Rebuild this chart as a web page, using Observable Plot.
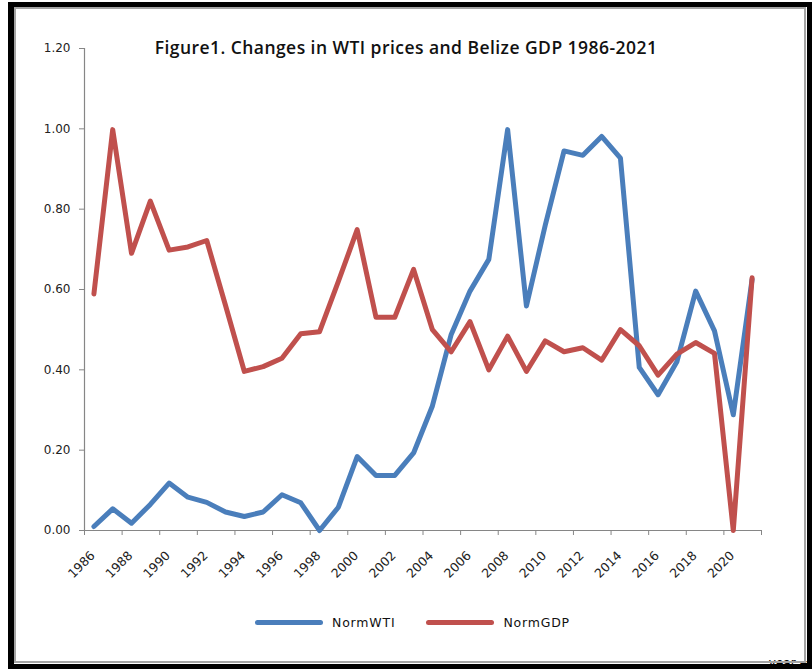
<!DOCTYPE html>
<html>
<head>
<meta charset="utf-8">
<script src="https://cdn.jsdelivr.net/npm/d3@7"></script>
<script src="https://cdn.jsdelivr.net/npm/@observablehq/plot@0.6"></script>
<style>
  html, body { margin: 0; padding: 0; background: #fff; }
  body { width: 812px; height: 669px; position: relative; overflow: hidden; font-family: "DejaVu Sans", sans-serif; }
  #chart { position: absolute; left: 0; top: 0; }
  #frame { position: absolute; left: 8px; top: 2px; width: 804px; height: 667px; box-sizing: border-box;
           border: 5px solid #000; border-left-width: 6px; pointer-events: none; }
  #frame .inner { position: absolute; left: 0; top: 0; right: 1px; bottom: 1px; border: 2.5px solid #a4a4a4; }
  #title { position: absolute; left: 0; width: 812px; top: 36px; text-align: center; font-family: "Open Sans", sans-serif;
           font-size: 17.5px; font-weight: 600; color: #111; line-height: 22px; letter-spacing: 0.45px; }
  #legend { position: absolute; top: 615px; left: 255px; display: flex; align-items: center; font-size: 12.5px; color: #111; letter-spacing: 0.8px; }
  #legend .sw { width: 68px; height: 5px; border-radius: 3px; margin-right: 9px; }
  #legend .item { display: flex; align-items: center; margin-right: 31px; }
</style>
</head>
<body>
<div id="chart"></div>
<div id="title">Figure1. Changes in WTI prices and Belize GDP 1986-2021</div>
<div id="legend"></div>
<div id="frame"><div class="inner"></div></div>
<script>
const years = d3.range(1986, 2022);
const normWTI = [0.01, 0.054, 0.018, 0.065, 0.118, 0.083, 0.07, 0.046, 0.035, 0.046, 0.089, 0.069,
  0.0, 0.058, 0.184, 0.137, 0.137, 0.193, 0.31, 0.488, 0.596, 0.675, 0.998, 0.559,
  0.76, 0.945, 0.934, 0.981, 0.927, 0.406, 0.338, 0.42, 0.596, 0.497, 0.288, 0.625];
const normGDP = [0.589, 0.998, 0.69, 0.82, 0.698, 0.706, 0.722, 0.56, 0.396, 0.408, 0.429, 0.49,
  0.495, 0.62, 0.749, 0.531, 0.531, 0.65, 0.50, 0.445, 0.52, 0.40, 0.484, 0.396,
  0.472, 0.445, 0.455, 0.424, 0.50, 0.46, 0.387, 0.439, 0.468, 0.441, 0.0, 0.629];
const yTicks = [0, 0.2, 0.4, 0.6, 0.8, 1.0, 1.2];
const xLabelYears = d3.range(1986, 2022, 2);
const xTickBounds = d3.range(1985.5, 2022, 2);
const seriesNames = ["NormWTI", "NormGDP"];
const seriesColors = ["#4a7ebb", "#c0504d"];

const rows = years.map((yr, i) => ({year: yr, wti: normWTI[i], gdp: normGDP[i]}));
const axisGrey = "#868686";

const plot = Plot.plot({
  width: 812,
  height: 669,
  marginLeft: 84,
  marginRight: 51,
  marginTop: 48,
  marginBottom: 139,
  style: {fontFamily: "DejaVu Sans, sans-serif", fontSize: "12px", background: "transparent"},
  x: {domain: [1985.5, 2021.5], axis: null},
  y: {domain: [0, 1.2], axis: null},
  marks: [
    Plot.ruleX([1985.5], {y1: 0, y2: 1.2, stroke: axisGrey, strokeWidth: 1.2}),
    Plot.ruleY([0], {x1: 1985.5, x2: 2021.5, stroke: axisGrey, strokeWidth: 1.2}),
    Plot.axisY(yTicks, {anchor: "left", tickSize: 5, tickPadding: 9, tickFormat: d3.format(".2f"), stroke: axisGrey, fill: "#222", letterSpacing: "0.8px"}),
    Plot.axisX(xTickBounds, {anchor: "bottom", tickSize: 5, tickFormat: () => "", stroke: axisGrey}),
    Plot.text(xLabelYears, {x: d => d, y: 0, text: d => String(d), rotate: -45, textAnchor: "end", lineAnchor: "middle", dx: -1, dy: 23, fontSize: 12.5, fill: "#222", letterSpacing: "1px"}),
    Plot.line(rows, {x: "year", y: "wti", stroke: seriesColors[0], strokeWidth: 5, strokeLinejoin: "round", strokeLinecap: "round"}),
    Plot.line(rows, {x: "year", y: "gdp", stroke: seriesColors[1], strokeWidth: 5, strokeLinejoin: "round", strokeLinecap: "round"})
  ]
});
document.getElementById("chart").appendChild(plot);

const legend = document.getElementById("legend");
seriesNames.forEach((n, i) => {
  const it = document.createElement("div");
  it.className = "item";
  const sw = document.createElement("div");
  sw.className = "sw";
  sw.style.background = seriesColors[i];
  const t = document.createElement("span");
  t.textContent = n;
  it.appendChild(sw); it.appendChild(t);
  legend.appendChild(it);
});
</script>
</body>
</html>
